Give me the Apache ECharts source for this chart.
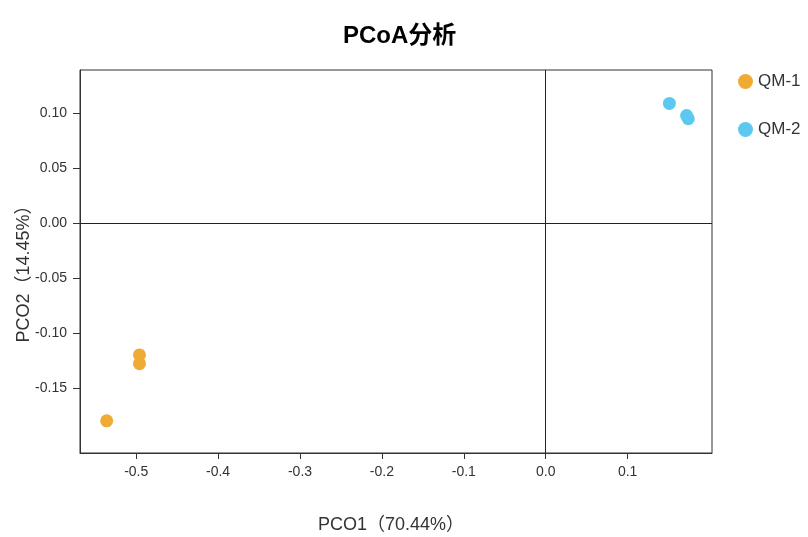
<!DOCTYPE html>
<html>
<head>
<meta charset="utf-8">
<script src="https://cdn.jsdelivr.net/npm/echarts@6/dist/echarts.min.js"></script>
<style>html,body{margin:0;padding:0;background:#fff}#c{width:808px;height:537px}</style>
</head>
<body>
<div id="c"></div>
<script>
const seriesNames = ['QM-1', 'QM-2'];
const qm1 = [[-0.536, -0.180], [-0.496, -0.120], [-0.496, -0.128]];
const qm2 = [[0.151, 0.109], [0.172, 0.098], [0.174, 0.095]];
const xTicks = [-0.5, -0.4, -0.3, -0.2, -0.1, 0.0, 0.1];
const yTicks = [-0.15, -0.10, -0.05, 0.00, 0.05, 0.10];
const colors = ['#F0AB35', '#5CC8EF'];

const chart = echarts.init(document.getElementById('c'));
const font = 'Arial, "Liberation Sans", "Noto Sans CJK SC", sans-serif';
chart.setOption({
  animation: false,
  color: colors,
  title: {
    text: 'PCoA分析', left: 338, top: 19,
    textStyle: {fontSize: 24, fontWeight: 'bold', color: '#000', fontFamily: font}
  },
  legend: {
    orient: 'vertical', left: 733, top: 68,
    itemWidth: 15, itemHeight: 15, itemGap: 31,
    icon: 'circle',
    textStyle: {fontSize: 17, color: '#333', fontFamily: font},
    data: seriesNames
  },
  grid: {
    left: 80, right: 96, top: 70, bottom: 84,
    outerBoundsMode: 'none', containLabel: false,
    show: true, borderColor: '#333', borderWidth: 1, backgroundColor: 'transparent'
  },
  xAxis: {
    type: 'value', min: -0.5686, max: 0.203,
    name: 'PCO1（70.44%）', nameLocation: 'middle', nameGap: 63, nameMoveOverlap: false,
    nameTextStyle: {fontSize: 18, color: '#333', fontFamily: font, padding: [0, 10, 0, 0]},
    axisLine: {show: true, onZero: false, lineStyle: {color: '#333'}},
    axisTick: {show: true, length: 6, customValues: xTicks, lineStyle: {color: '#333'}},
    axisLabel: {customValues: xTicks, fontSize: 14, color: '#333', margin: 12, fontFamily: font,
      formatter: v => v.toFixed(1)},
    splitLine: {show: false}
  },
  yAxis: {
    type: 'value', min: -0.2093, max: 0.1394,
    name: 'PCO2（14.45%）', nameLocation: 'middle', nameGap: 47, nameMoveOverlap: false,
    nameTextStyle: {fontSize: 18, color: '#333', fontFamily: font, padding: [0, 16, 0, 0]},
    axisLine: {show: true, onZero: false, lineStyle: {color: '#333'}},
    axisTick: {show: true, length: 7, customValues: yTicks, lineStyle: {color: '#333'}},
    axisLabel: {customValues: yTicks, fontSize: 14, color: '#333', margin: 13, fontFamily: font,
      formatter: v => v.toFixed(2)},
    splitLine: {show: false}
  },
  series: [
    {
      name: seriesNames[0], type: 'scatter', data: qm1, symbolSize: 13,
      itemStyle: {opacity: 1},
      markLine: {
        silent: true, symbol: 'none', label: {show: false},
        lineStyle: {color: '#222', type: 'solid', width: 1},
        data: [{xAxis: 0}, {yAxis: 0}]
      }
    },
    {name: seriesNames[1], type: 'scatter', data: qm2, symbolSize: 13, itemStyle: {opacity: 1}}
  ]
});
</script>
</body>
</html>
